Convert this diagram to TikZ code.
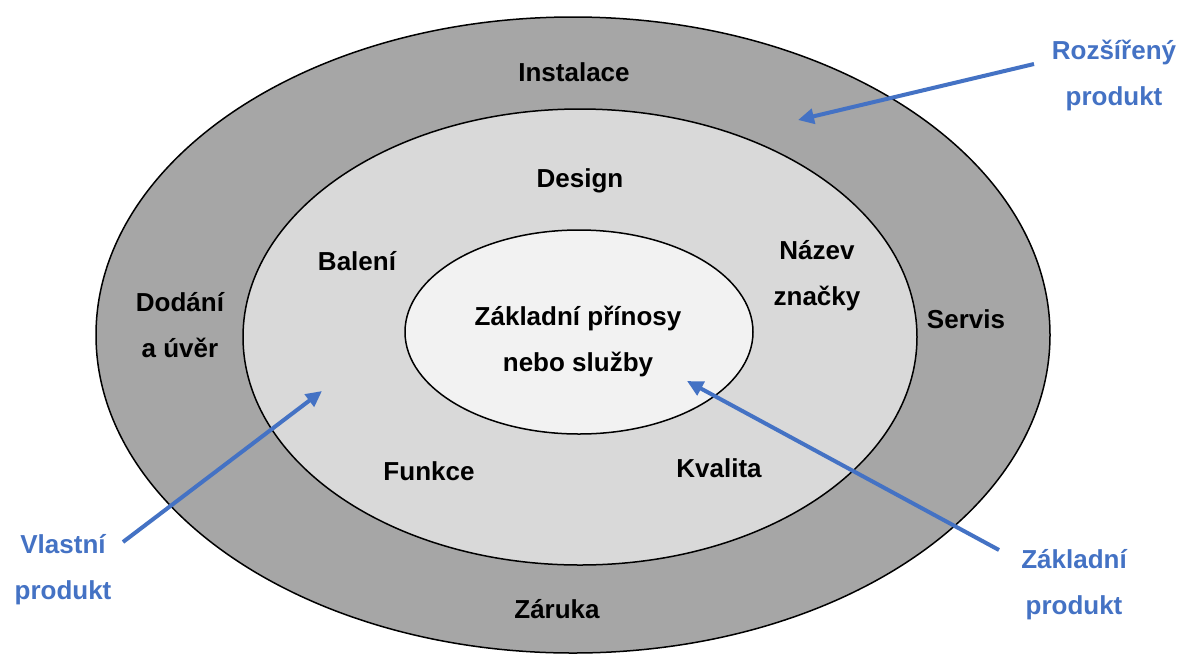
\documentclass[tikz,border=0pt]{standalone}
\usepackage{fontspec}
\setmainfont{Liberation Sans}
\usetikzlibrary{arrows.meta}
\definecolor{ringdark}{HTML}{A6A6A6}
\definecolor{ringmid}{HTML}{D9D9D9}
\definecolor{ringlight}{HTML}{F2F2F2}
\definecolor{accent}{HTML}{4472C4}
\tikzset{
  ring/.style={draw=black, line width=1.5pt},
  lbl/.style={font=\fontsize{26}{46}\selectfont\bfseries, align=center, inner sep=0pt, text=black},
  bluelbl/.style={lbl, text=accent},
  pointer/.style={draw=accent, line width=4pt, -{Triangle[length=16pt,width=15pt]}}
}
\begin{document}
\begin{tikzpicture}[x=1pt,y=-1pt]
\useasboundingbox (0,0) rectangle (1194,657);
\fill[white] (0,0) rectangle (1194,657);
% rings
\draw[ring, fill=ringdark] (573,335) ellipse [x radius=477pt, y radius=318pt];
\draw[ring, fill=ringmid] (580,337) ellipse [x radius=337pt, y radius=228pt];
\draw[ring, fill=ringlight] (579,332) ellipse [x radius=174pt, y radius=102pt];
% labels
\node[lbl] (instalace) at (574,72) {Instalace};
\node[lbl] (design) at (580,181) {Design};
\node[lbl] (baleni) at (357,261) {Balení};
\node[lbl] (nazev) at (817,276) {Název\\značky};
\node[lbl] (dodani) at (180,325) {Dodání\\a úvěr};
\node[lbl] (servis) at (966,319) {Servis};
\node[lbl] (core) at (578,341) {Základní přínosy\\nebo služby};
\node[lbl] (funkce) at (429,471) {Funkce};
\node[lbl] (kvalita) at (719,468) {Kvalita};
\node[lbl] (zaruka) at (557,609) {Záruka};
\node[bluelbl] (rozsireny) at (1114,75) {Rozšířený\\produkt};
\node[bluelbl] (vlastni) at (63,570) {Vlastní\\produkt};
\node[bluelbl] (zakladni) at (1074,585) {Základní\\produkt};
% arrow ends
\coordinate (rA) at (1034,64);
\coordinate (rB) at (798,120);
\coordinate (vA) at (123,542);
\coordinate (vB) at (322,391);
\coordinate (zA) at (999,550);
\coordinate (zB) at (687,381);
\draw[pointer] (rA) -- (rB);
\draw[pointer] (vA) -- (vB);
\draw[pointer] (zA) -- (zB);
\end{tikzpicture}
\end{document}
